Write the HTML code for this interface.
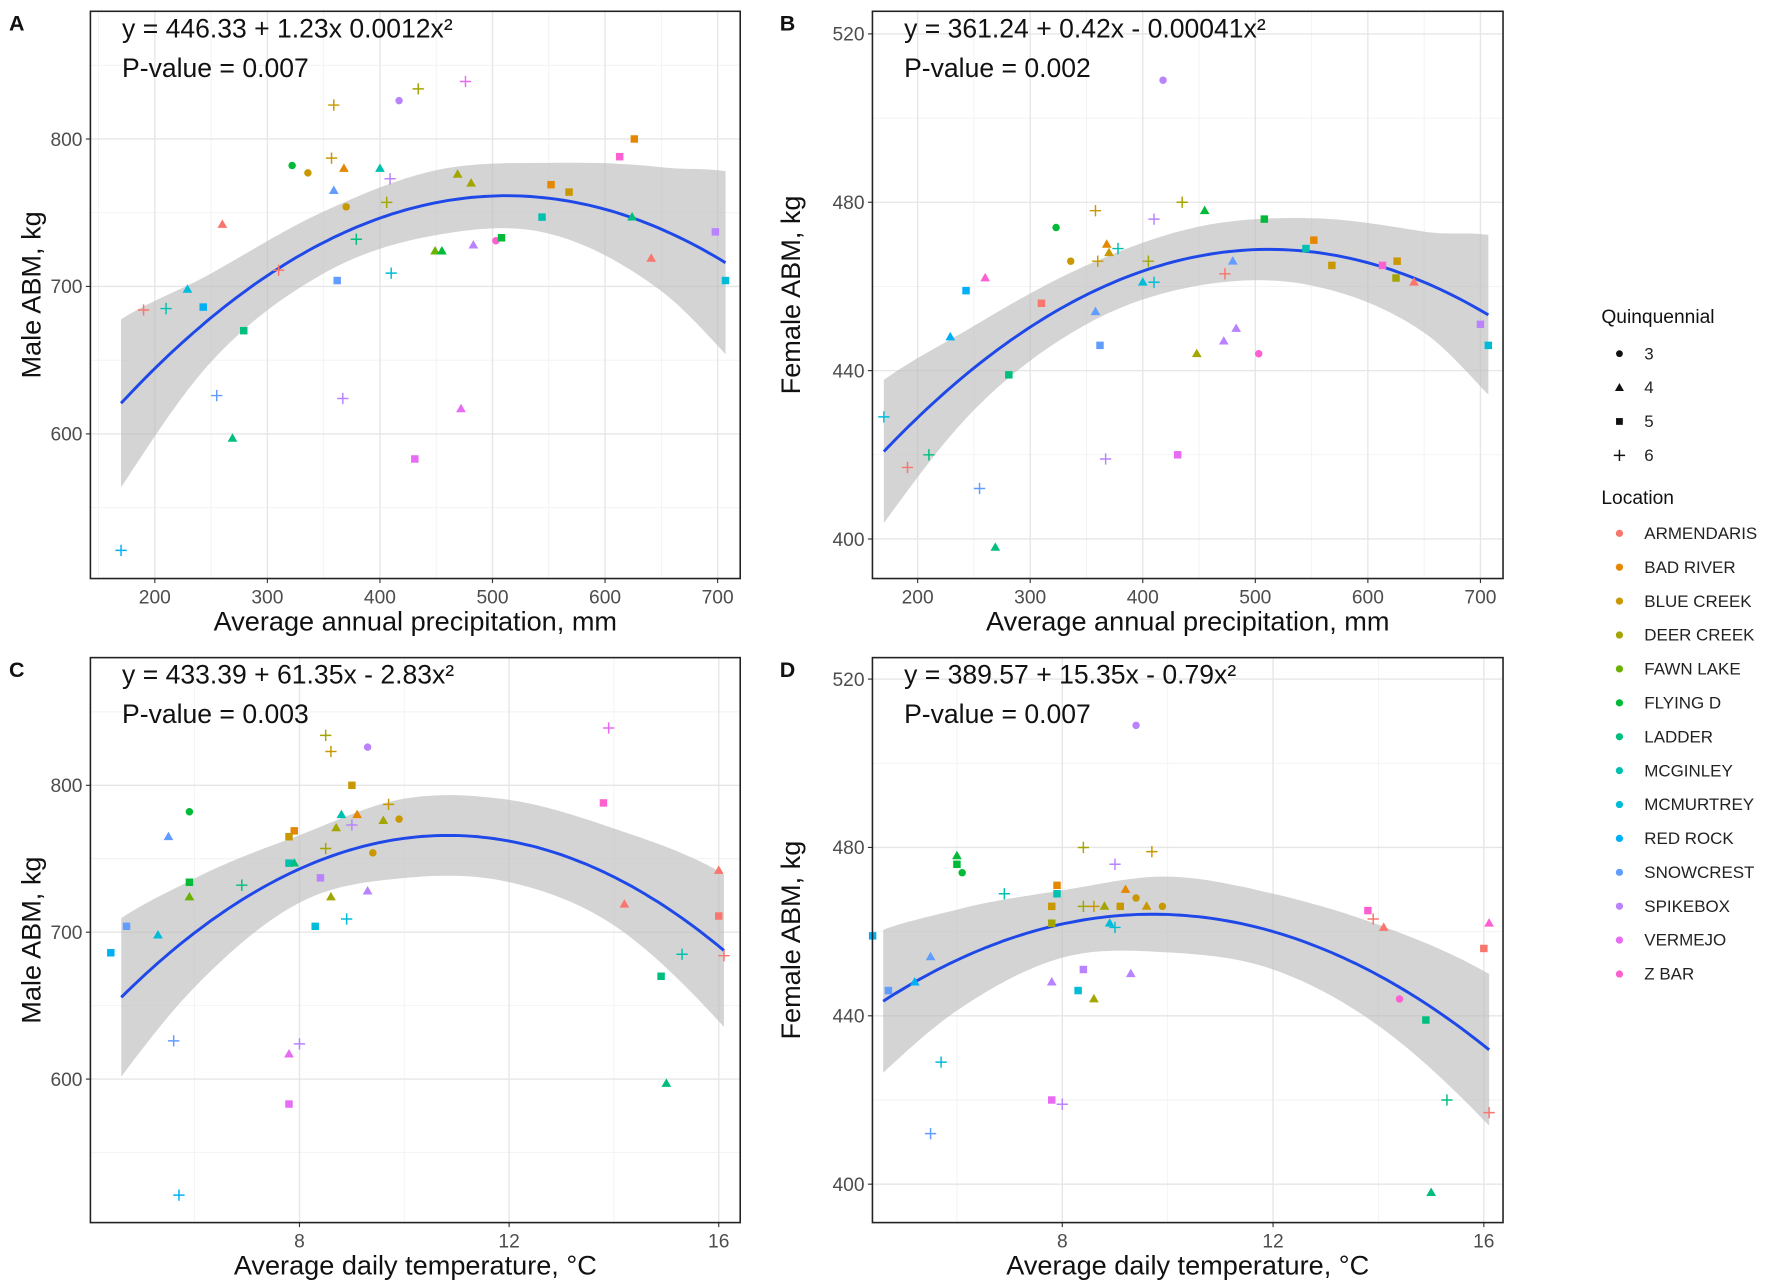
<!DOCTYPE html>
<html><head><meta charset="utf-8"><style>
html,body{margin:0;padding:0;background:#fff}
svg{display:block}
text{font-family:"Liberation Sans",Arial,sans-serif}
</style></head><body>
<svg id="chart" width="1772" height="1287" viewBox="0 0 1568 1139" preserveAspectRatio="none" xmlns="http://www.w3.org/2000/svg"></svg>
<script>
// ---- data ----
const locations = ["ARMENDARIS","BAD RIVER","BLUE CREEK","DEER CREEK","FAWN LAKE","FLYING D","LADDER","MCGINLEY","MCMURTREY","RED ROCK","SNOWCREST","SPIKEBOX","VERMEJO","Z BAR"];
const locColors = ["#F8766D","#E58700","#C99800","#A3A500","#6BB100","#00BA38","#00BF7D","#00C0AF","#00BCD8","#00B0F6","#619CFF","#B983FF","#E76BF3","#FD61D1"];
const quinquennials = ["3","4","5","6"];
const shapeNames = ["circle","triangle","square","cross"];

// points: [x, y, locationIndex, shapeIndex]
const pointsA = [[359,823,2,3],[417,826,11,0],[434,834,3,3],[476,839,12,3],[322,782,5,0],[336,777,2,0],[357,787,2,3],[368,780,1,1],[400,780,7,1],[409,773,11,3],[359,765,10,1],[370,754,2,0],[406,757,3,3],[469,776,3,1],[481,770,3,1],[260,742,0,1],[379,732,6,3],[449,724,4,1],[455,724,5,1],[483,728,11,1],[503,731,13,0],[508,733,5,2],[544,747,7,2],[552,769,1,2],[568,764,2,2],[613,788,13,2],[626,800,1,2],[624,747,6,1],[698,737,11,2],[641,719,0,1],[707,704,8,2],[310,711,0,3],[362,704,10,2],[410,709,8,3],[229,698,8,1],[190,684,0,3],[210,685,7,3],[243,686,9,2],[279,670,6,2],[255,626,10,3],[367,624,11,3],[472,617,12,1],[269,597,6,1],[431,583,12,2],[170,521,9,3]];
const pointsB = [[418,509,11,0],[435,480,3,3],[455,478,5,1],[508,476,5,2],[358,478,2,3],[410,476,11,3],[323,474,5,0],[368,470,1,1],[370,468,2,1],[360,466,2,3],[336,466,2,0],[405,466,3,3],[378,469,7,3],[260,462,13,1],[243,459,9,2],[545,469,7,2],[552,471,1,2],[568,465,2,2],[613,465,13,2],[626,466,2,2],[625,462,3,2],[641,461,0,1],[480,466,10,1],[473,463,0,3],[410,461,8,3],[400,461,8,1],[310,456,0,2],[358,454,10,1],[229,448,9,1],[362,446,10,2],[281,439,6,2],[483,450,11,1],[472,447,11,1],[448,444,3,1],[503,444,13,0],[700,451,11,2],[707,446,8,2],[170,429,8,3],[191,417,0,3],[210,420,6,3],[367,419,11,3],[431,420,12,2],[255,412,10,3],[269,398,6,1]];
const pointsC = [[8.5,834,3,3],[8.6,823,2,3],[9.3,826,11,0],[13.9,839,12,3],[5.9,782,5,0],[5.5,765,10,1],[9.0,800,2,2],[13.8,788,13,2],[7.9,769,1,2],[7.8,765,2,2],[8.8,780,7,1],[9.1,780,1,1],[9.0,773,11,3],[8.7,771,3,1],[9.7,787,2,3],[9.6,776,3,1],[9.9,777,2,0],[8.5,757,3,3],[9.4,754,2,0],[7.8,747,7,2],[7.9,747,6,1],[5.9,734,5,2],[5.9,724,4,1],[6.9,732,6,3],[8.4,737,11,2],[8.6,724,3,1],[9.3,728,11,1],[4.7,704,10,2],[5.3,698,8,1],[4.4,686,9,2],[8.3,704,8,2],[8.9,709,8,3],[14.2,719,0,1],[16.0,742,0,1],[16.0,711,0,2],[16.1,684,0,3],[15.3,685,7,3],[14.9,670,6,2],[5.6,626,10,3],[8.0,624,11,3],[7.8,617,12,1],[7.8,583,12,2],[15.0,597,6,1],[5.7,521,9,3]];
const pointsD = [[9.4,509,11,0],[8.4,480,3,3],[9.7,479,2,3],[6.0,478,5,1],[6.0,476,5,2],[6.1,474,5,0],[9.0,476,11,3],[6.9,469,7,3],[7.9,471,1,2],[7.9,469,7,2],[9.2,470,1,1],[9.4,468,2,0],[8.4,466,3,3],[8.6,466,2,3],[7.8,466,2,2],[8.8,466,3,1],[9.1,466,2,2],[9.6,466,2,1],[9.9,466,2,0],[7.8,462,3,2],[8.9,462,8,1],[9.0,461,8,3],[4.4,459,9,2],[13.8,465,13,2],[13.9,463,0,3],[14.1,461,0,1],[16.1,462,13,1],[16.0,456,0,2],[5.5,454,10,1],[4.7,446,10,2],[5.2,448,9,1],[7.8,448,11,1],[8.4,451,11,2],[9.3,450,11,1],[8.3,446,8,2],[8.6,444,3,1],[14.4,444,13,0],[14.9,439,6,2],[5.7,429,8,3],[7.8,420,12,2],[8.0,419,11,3],[5.5,412,10,3],[15.3,420,6,3],[16.1,417,0,3],[15.0,398,6,1]];

// fitted quadratic coefficients [a,b,c]
const coefA = [446.33,1.23,-0.0012];
const coefB = [361.24,0.42,-0.00041];
const coefC = [433.39,61.35,-2.83];
const coefD = [389.57,15.35,-0.79];
// confidence band half-widths
const bandXA = [170,250,350,450,550,650,707], bandHwA = [57,30,21,22,24,42,62];
const bandXB = [170,250,350,450,550,650,707], bandHwB = [17,10,7,7,8,12,19];
const bandXC = [4.6,6,8,10,12,14,16.1], bandHwC = [54,37,23,27,28,33,52];
const bandXD = [4.6,6,8,10,12,14,16.1], bandHwD = [17,12,8,9,9,12,18];

const ticksXA = [200,300,400,500,600,700], ticksYA = [600,700,800];
const ticksXC = [8,12,16];
const ticksYB = [400,440,480,520];

const NS = "http://www.w3.org/2000/svg";
const svg = document.getElementById("chart");
function el(tag, attrs, parent){const e=document.createElementNS(NS,tag);for(const k in attrs)e.setAttribute(k,attrs[k]);(parent||svg).appendChild(e);return e;}

function lin(d0,d1,r0,r1){return v=>r0+(v-d0)*(r1-r0)/(d1-d0);}
// Catmull-Rom interpolation
function interp(xs,ys,x){
  const n=xs.length;
  if(x<=xs[0])return ys[0]; if(x>=xs[n-1])return ys[n-1];
  let i=1; while(x>xs[i])i++;
  const i0=i-1,i1=i;
  const t=(x-xs[i0])/(xs[i1]-xs[i0]);
  const h=xs[i1]-xs[i0];
  const m0=i0>0?(ys[i1]-ys[i0-1])/(xs[i1]-xs[i0-1]):(ys[i1]-ys[i0])/h;
  const m1=i1<n-1?(ys[i1+1]-ys[i0])/(xs[i1+1]-xs[i0]):(ys[i1]-ys[i0])/h;
  const t2=t*t,t3=t2*t;
  return (2*t3-3*t2+1)*ys[i0]+(t3-2*t2+t)*h*m0+(-2*t3+3*t2)*ys[i1]+(t3-t2)*h*m1;
}

function panel(cfg){
  const g=el("g",{});
  
  
  const {L,R,T,B}=cfg;
  const sx=cfg.sx, sy=cfg.sy;
  cfg.minorX.forEach(v=>{const x=sx(v);if(x>L&&x<R){const l=el("line",{x1:x,x2:x,y1:T,y2:B,stroke:"#f2f2f2","stroke-width":0.8},g);}});
  cfg.minorY.forEach(v=>{const y=sy(v);if(y>T&&y<B){const l=el("line",{x1:L,x2:R,y1:y,y2:y,stroke:"#f2f2f2","stroke-width":0.8},g);}});
  cfg.ticksX.forEach(v=>{const x=sx(v);const l=el("line",{x1:x,x2:x,y1:T,y2:B,stroke:"#e6e6e6","stroke-width":1.2},g);
    const tk=el("line",{x1:x,x2:x,y1:B,y2:B+4,stroke:"#333","stroke-width":1},g);
    const t=el("text",{x:x,y:B+22,"text-anchor":"middle","font-size":17,fill:"#4d4d4d"},g);t.textContent=v;});
  cfg.ticksY.forEach(v=>{const y=sy(v);if(y<T-2||y>B+2)return;const l=el("line",{x1:L,x2:R,y1:y,y2:y,stroke:"#e6e6e6","stroke-width":1.2},g);
    const tk=el("line",{x1:L-4,x2:L,y1:y,y2:y,stroke:"#333","stroke-width":1},g);
    const t=el("text",{x:L-7,y:y+6,"text-anchor":"end","font-size":17,fill:"#4d4d4d"},g);t.textContent=v;});
  const f=x=>cfg.coef[0]+cfg.coef[1]*x+cfg.coef[2]*x*x;
  const x0=cfg.bandX[0], x1=cfg.bandX[cfg.bandX.length-1];
  const up=[],lo=[],cv=[];
  for(let i=0;i<=100;i++){const x=x0+(x1-x0)*i/100;const hw=interp(cfg.bandX,cfg.bandHw,x);
    up.push(sx(x).toFixed(1)+","+sy(f(x)+hw).toFixed(1));lo.push(sx(x).toFixed(1)+","+sy(f(x)-hw).toFixed(1));cv.push(sx(x).toFixed(1)+","+sy(f(x)).toFixed(1));}
  const band=el("polygon",{points:up.concat(lo.reverse()).join(" "),fill:"#bdbdbd","fill-opacity":0.65},g);
  
  const line=el("polyline",{points:cv.join(" "),fill:"none",stroke:"#1f48e8","stroke-width":2.6},g);
  
  cfg.points.forEach(p=>{
    const x=sx(p[0]),y=sy(p[1]),c=locColors[p[2]],s=p[3];let m;
    if(s===0)m=el("circle",{cx:x,cy:y,r:3.3,fill:c},g);
    else if(s===1)m=el("polygon",{points:`${x},${y-4.5} ${x-4.3},${y+3} ${x+4.3},${y+3}`,fill:c},g);
    else if(s===2)m=el("rect",{x:x-3.3,y:y-3.3,width:6.6,height:6.6,fill:c},g);
    else m=el("path",{d:`M${x-5},${y}H${x+5}M${x},${y-5}V${y+5}`,stroke:c,"stroke-width":1.3,fill:"none"},g);
    
    
  });
  const bd=el("rect",{x:L,y:T,width:R-L,height:B-T,fill:"none",stroke:"#222","stroke-width":1.4},g);
  
  const e1=el("text",{x:L+28,y:T+23,"font-size":23.5,fill:"#111"},g);e1.textContent=cfg.eq;
  const e2=el("text",{x:L+28,y:T+58,"font-size":23.5,fill:"#111"},g);e2.textContent=cfg.pv;
  const xt=el("text",{x:(L+R)/2,y:B+46,"text-anchor":"middle","font-size":24,fill:"#111"},g);xt.textContent=cfg.xtitle;
  const yx=cfg.ytx,yy=(T+B)/2;
  const yt=el("text",{x:yx,y:yy,"text-anchor":"middle","font-size":24,fill:"#111",transform:`rotate(-90 ${yx} ${yy})`},g);yt.textContent=cfg.ytitle;
  const pl=el("text",{x:cfg.lx,y:T+17,"font-size":19,"font-weight":"bold",fill:"#111"},g);pl.textContent=cfg.letter;
}

const minorPrecip=[150,250,350,450,550,650];
const minorTemp=[4,6,10,14];
panel({name:"panel-a",L:80,R:655,T:10,B:512,sx:lin(200,700,137,635),sy:lin(600,800,384,123),ticksX:ticksXA,ticksY:ticksYA,minorX:minorPrecip,minorY:[550,650,750,850],coef:coefA,bandX:bandXA,bandHw:bandHwA,points:pointsA,eq:"y = 446.33 + 1.23x  0.0012x²",pv:"P-value = 0.007",xtitle:"Average annual precipitation, mm",ytitle:"Male ABM, kg",ytx:36,lx:8,letter:"A"});
panel({name:"panel-b",L:772,R:1330,T:10,B:512,sx:lin(200,700,812,1310),sy:lin(400,520,477,30),ticksX:ticksXA,ticksY:ticksYB,minorX:minorPrecip,minorY:[420,460,500],coef:coefB,bandX:bandXB,bandHw:bandHwB,points:pointsB,eq:"y = 361.24 + 0.42x - 0.00041x²",pv:"P-value = 0.002",xtitle:"Average annual precipitation, mm",ytitle:"Female ABM, kg",ytx:708,lx:690,letter:"B"});
panel({name:"panel-c",L:80,R:655,T:582,B:1082,sx:lin(8,16,265,636),sy:lin(600,800,955,695),ticksX:ticksXC,ticksY:ticksYA,minorX:minorTemp,minorY:[550,650,750,850],coef:coefC,bandX:bandXC,bandHw:bandHwC,points:pointsC,eq:"y = 433.39 + 61.35x - 2.83x²",pv:"P-value = 0.003",xtitle:"Average daily temperature, °C",ytitle:"Male ABM, kg",ytx:36,lx:8,letter:"C"});
panel({name:"panel-d",L:772,R:1330,T:582,B:1082,sx:lin(8,16,940,1313),sy:lin(400,520,1048,601),ticksX:ticksXC,ticksY:ticksYB,minorX:minorTemp,minorY:[420,460,500],coef:coefD,bandX:bandXD,bandHw:bandHwD,points:pointsD,eq:"y = 389.57 + 15.35x - 0.79x²",pv:"P-value = 0.007",xtitle:"Average daily temperature, °C",ytitle:"Female ABM, kg",ytx:708,lx:690,letter:"D"});

const lg=el("g",{});


const q=el("text",{x:1417,y:286,"font-size":17,fill:"#111"},lg);q.textContent="Quinquennial";
quinquennials.forEach((lab,i)=>{const y=313+i*30,x=1433;let m;
  if(i===0)m=el("circle",{cx:x,cy:y,r:3,fill:"#111"},lg);
  else if(i===1)m=el("polygon",{points:`${x},${y-4} ${x-4},${y+3} ${x+4},${y+3}`,fill:"#111"},lg);
  else if(i===2)m=el("rect",{x:x-3,y:y-3,width:6,height:6,fill:"#111"},lg);
  else m=el("path",{d:`M${x-5},${y}H${x+5}M${x},${y-5}V${y+5}`,stroke:"#111","stroke-width":1.3},lg);
  
  const t=el("text",{x:1455,y:y+5,"font-size":15,fill:"#222"},lg);t.textContent=lab;});
const lt=el("text",{x:1417,y:446,"font-size":17,fill:"#111"},lg);lt.textContent="Location";
locations.forEach((lab,i)=>{const y=472+i*30;
  const d=el("circle",{cx:1433,cy:y,r:3.2,fill:locColors[i]},lg);
  const t=el("text",{x:1455,y:y+5,"font-size":15,fill:"#222"},lg);t.textContent=lab;});
</script>
</body></html>
